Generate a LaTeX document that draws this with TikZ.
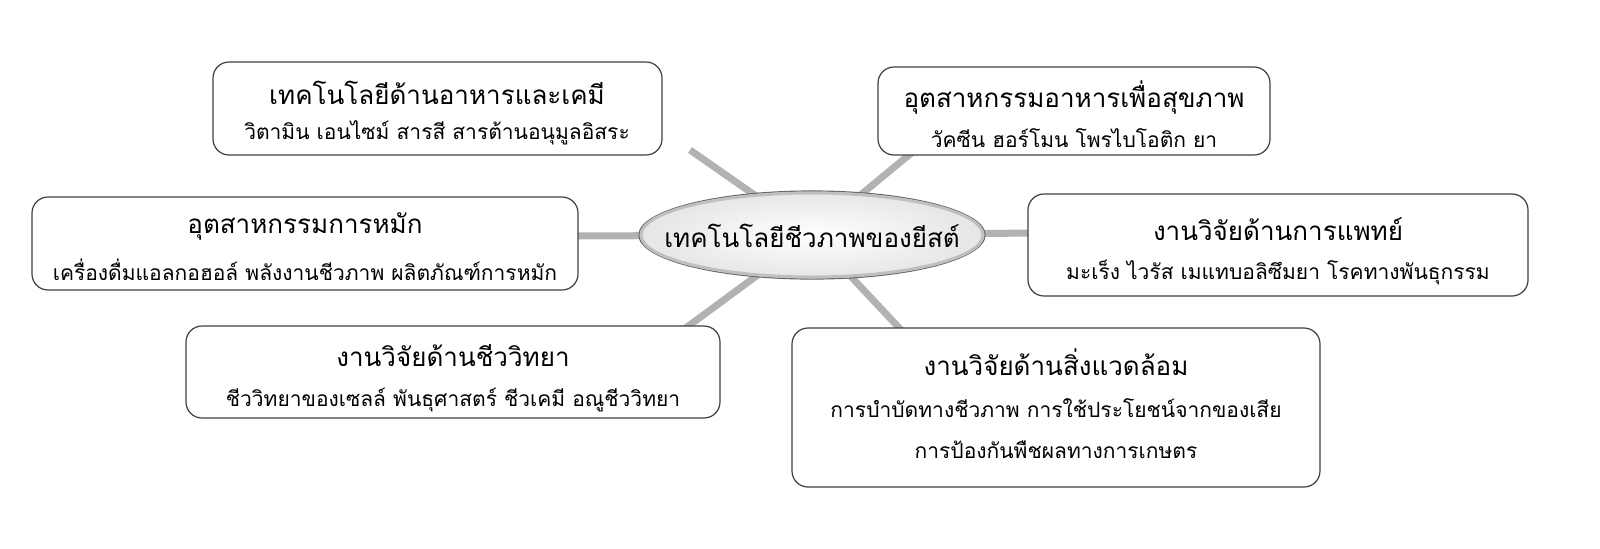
\documentclass[tikz,border=0pt]{standalone}
\usepackage{fontspec}
\newfontfamily\thaifont[Script=Thai]{Loma}
\usetikzlibrary{shapes.geometric}
\begin{document}
\begin{tikzpicture}[x=0.5pt,y=-0.5pt,
  boxx/.style={draw=black!75,line width=0.6pt,rounded corners=8pt,fill=white},
  conn/.style={draw=black!30,line width=3.5pt},
  tit/.style={font=\thaifont\fontsize{13}{15}\selectfont},
  sub/.style={font=\thaifont\fontsize{10.5}{13}\selectfont}]
\coordinate (c) at (812,235);
\coordinate (e1) at (690,150);
\coordinate (e2) at (915,150);
\coordinate (e3) at (570,236);
\coordinate (e4) at (1035,233);
\coordinate (e5) at (683,330);
\coordinate (e6) at (903,332);
\foreach \e in {e1,e2,e3,e4,e5,e6} \draw[conn] (c) -- (\e);
\filldraw[boxx] (213,62) rectangle (662,155);
\filldraw[boxx] (878,67) rectangle (1270,155);
\filldraw[boxx] (32,197) rectangle (578,290);
\filldraw[boxx] (1028,194) rectangle (1528,296);
\filldraw[boxx] (186,326) rectangle (720,418);
\filldraw[boxx] (792,328) rectangle (1320,487);
\node[ellipse,draw=black!60,line width=0.6pt,minimum width=173pt,minimum height=44pt,inner color=white,outer color=black!10] (cent) at (c) {};
\node[ellipse,draw=black!25,line width=1.5pt,minimum width=171pt,minimum height=42pt] (rim) at (c) {};
\node[tit] (ct) at (812,236) {เทคโนโลยีชีวภาพของยีสต์};
\node[tit] (t1) at (437,93) {เทคโนโลยีด้านอาหารและเคมี};
\node[sub] (s1) at (437,133) {วิตามิน เอนไซม์ สารสี สารต้านอนุมูลอิสระ};
\node[tit] (t2) at (1074,98) {อุตสาหกรรมอาหารเพื่อสุขภาพ};
\node[sub] (s2) at (1074,138) {วัคซีน ฮอร์โมน โพรไบโอติก ยา};
\node[tit] (t3) at (305,226) {อุตสาหกรรมการหมัก};
\node[sub] (s3) at (305,270) {เครื่องดื่มแอลกอฮอล์ พลังงานชีวภาพ ผลิตภัณฑ์การหมัก};
\node[tit] (t4) at (1278,229) {งานวิจัยด้านการแพทย์};
\node[sub] (s4) at (1278,273) {มะเร็ง ไวรัส เมแทบอลิซึมยา โรคทางพันธุกรรม};
\node[tit] (t5) at (453,356) {งานวิจัยด้านชีววิทยา};
\node[sub] (s5) at (453,400) {ชีววิทยาของเซลล์ พันธุศาสตร์ ชีวเคมี อณูชีววิทยา};
\node[tit] (t6) at (1056,362) {งานวิจัยด้านสิ่งแวดล้อม};
\node[sub] (s6) at (1056,408) {การบำบัดทางชีวภาพ การใช้ประโยชน์จากของเสีย};
\node[sub] (s7) at (1056,450) {การป้องกันพืชผลทางการเกษตร};
\pgfresetboundingbox
\useasboundingbox (0,0) rectangle (1600,548);
\end{tikzpicture}
\end{document}
